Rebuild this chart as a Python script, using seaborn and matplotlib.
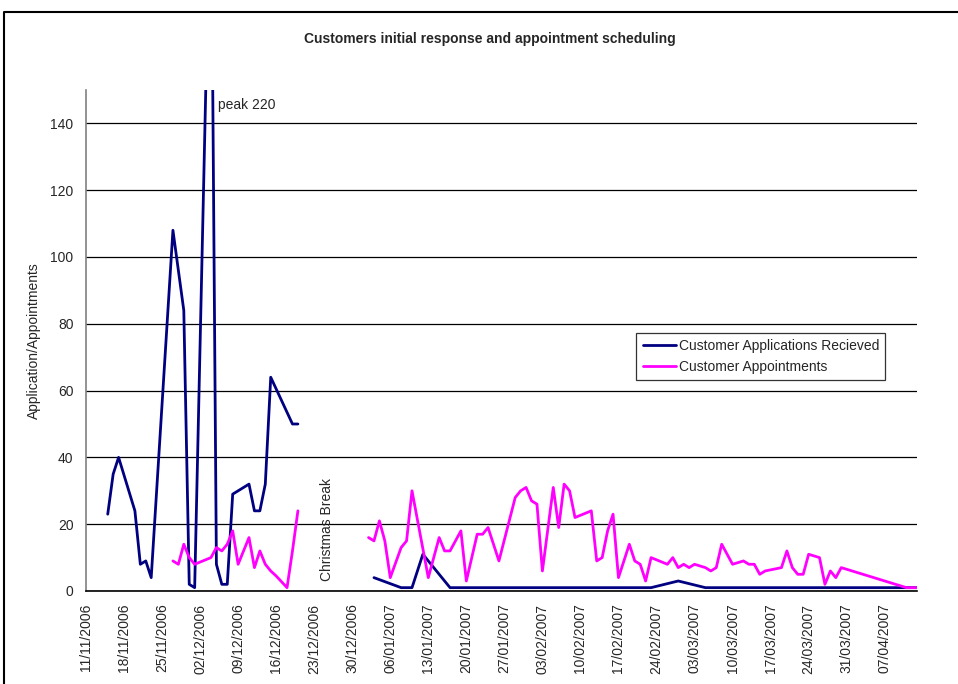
import seaborn as sns
import matplotlib.pyplot as plt
import matplotlib.dates as mdates
from matplotlib.lines import Line2D
import pandas as pd

# days counted from 11/11/2006
start = pd.Timestamp("2006-11-11")

apps_days = [4, 5, 6, 9, 10, 11, 12, 16, 17, 18, 19, 20, 23, 24, 25, 26, 27, 30, 31, 32, 33, 34, 38, 39,
             53, 58, 60, 62, 67, 104, 109, 114, 153]
apps_vals = [23, 35, 40, 24, 8, 9, 4, 108, 96, 84, 2, 1, 220, 8, 2, 2, 29, 32, 24, 24, 32, 64, 50, 50,
             4, 1, 1, 11, 1, 1, 3, 1, 1]

appt_days = [16, 17, 18, 19, 20, 23, 24, 25, 26, 27, 28, 30, 31, 32, 33, 34, 35, 37, 38, 39,
             52, 53, 54, 55, 56, 58, 59, 60, 63, 65, 66, 67, 69, 70, 72, 73, 74, 76, 79, 80, 81, 82, 83, 84,
             86, 87, 88, 89, 90, 93, 94, 95, 96, 97, 98, 100, 101, 102, 103, 104, 107, 108, 109, 110, 111,
             112, 114, 115, 116, 117, 119, 121, 122, 123, 124, 125, 128, 129, 130, 131, 132, 133, 135, 136,
             137, 138, 139, 151, 153]
appt_vals = [9, 8, 14, 10, 8, 10, 13, 12, 14, 18, 8, 16, 7, 12, 8, 6, 4.5, 1, 12, 24,
             16, 15, 21, 15, 4, 13, 15, 30, 4, 16, 12, 12, 18, 3, 17, 17, 19, 9, 28, 30, 31, 27, 26, 6,
             31, 19, 32, 30, 22, 24, 9, 10, 18, 23, 4, 14, 9, 8, 3, 10, 8, 10, 7, 8, 7,
             8, 7, 6, 7, 14, 8, 9, 8, 8, 5, 6, 7, 12, 7, 5, 5, 11, 10, 2,
             6, 4, 7, 1, 1]

name_apps = "Customer Applications Recieved"
name_appt = "Customer Appointments"

frames = []
for name, days, vals in [(name_apps, apps_days, apps_vals), (name_appt, appt_days, appt_vals)]:
    d = pd.DataFrame({"day": days, "value": vals})
    d["date"] = start + pd.to_timedelta(d["day"], unit="D")
    d["series"] = name
    d["segment"] = (d["day"] > 45).astype(int)  # christmas break gap
    frames.append(d)
data = pd.concat(frames, ignore_index=True)

sns.set_style("white")
plt.rcParams["font.family"] = ["Liberation Sans", "DejaVu Sans"]

fig = plt.figure(figsize=(9.58, 6.84), dpi=100)
ax = fig.add_axes([86 / 958, 1 - 591 / 684, 831.3 / 958, 501 / 684])

colors = {name_apps: "#000080", name_appt: "#FF00FF"}
sns.lineplot(data=data, x="date", y="value", hue="series", units="segment", estimator=None,
             palette=colors, linewidth=2.0, ax=ax, legend=False, zorder=3)

ax.set_ylim(0, 150)
ax.set_xlim(start, start + pd.Timedelta(days=153))
ax.set_yticks(range(0, 141, 20))
ax.yaxis.grid(True, color="black", linewidth=0.9)
ax.set_axisbelow(True)
for s in ["top", "right"]:
    ax.spines[s].set_visible(False)
ax.spines["left"].set_color("#808080")
ax.spines["bottom"].set_color("black")
ax.spines["left"].set_linewidth(1.2)
ax.spines["bottom"].set_linewidth(1.2)

ax.xaxis.set_major_locator(mdates.WeekdayLocator(byweekday=mdates.SA))
ax.xaxis.set_major_formatter(mdates.DateFormatter("%d/%m/%Y"))
ax.tick_params(axis="x", direction="out", length=5, width=1, color="black", labelsize=10, rotation=90, pad=4)
ax.tick_params(axis="y", direction="out", length=5, width=1, color="black", labelsize=10, pad=4)
ax.set_xlabel("")
ax.set_ylabel("Application/Appointments", fontsize=10, labelpad=7)

ax.text(start + pd.Timedelta(days=24.3), 143.3, "peak 220", fontsize=10, ha="left", va="bottom")
ax.text(start + pd.Timedelta(days=44.3), 3, "Christmas Break", fontsize=10, rotation=90,
        ha="center", va="bottom")

fig.text(490 / 958, 1 - 39 / 684, "Customers initial response and appointment scheduling",
         fontsize=10, fontweight="bold", ha="center", va="center")

handles = [Line2D([], [], color=colors[name_apps], linewidth=2.0),
           Line2D([], [], color=colors[name_appt], linewidth=2.0)]
leg = ax.legend(handles, [name_apps, name_appt], loc="lower left", bbox_to_anchor=(0.662, 0.421),
                fontsize=10, frameon=True, fancybox=False, handlelength=2.4, handletextpad=0.2,
                borderpad=0.45, labelspacing=0.5, borderaxespad=0)
leg.get_frame().set_edgecolor("black")
leg.get_frame().set_linewidth(0.9)

# chart area border (top and left visible)
fig.add_artist(Line2D([4 / 958, 4 / 958, 1], [0, 1 - 12 / 684, 1 - 12 / 684],
                      transform=fig.transFigure, color="black", linewidth=1.5))

plt.savefig("out.png", dpi=100)
